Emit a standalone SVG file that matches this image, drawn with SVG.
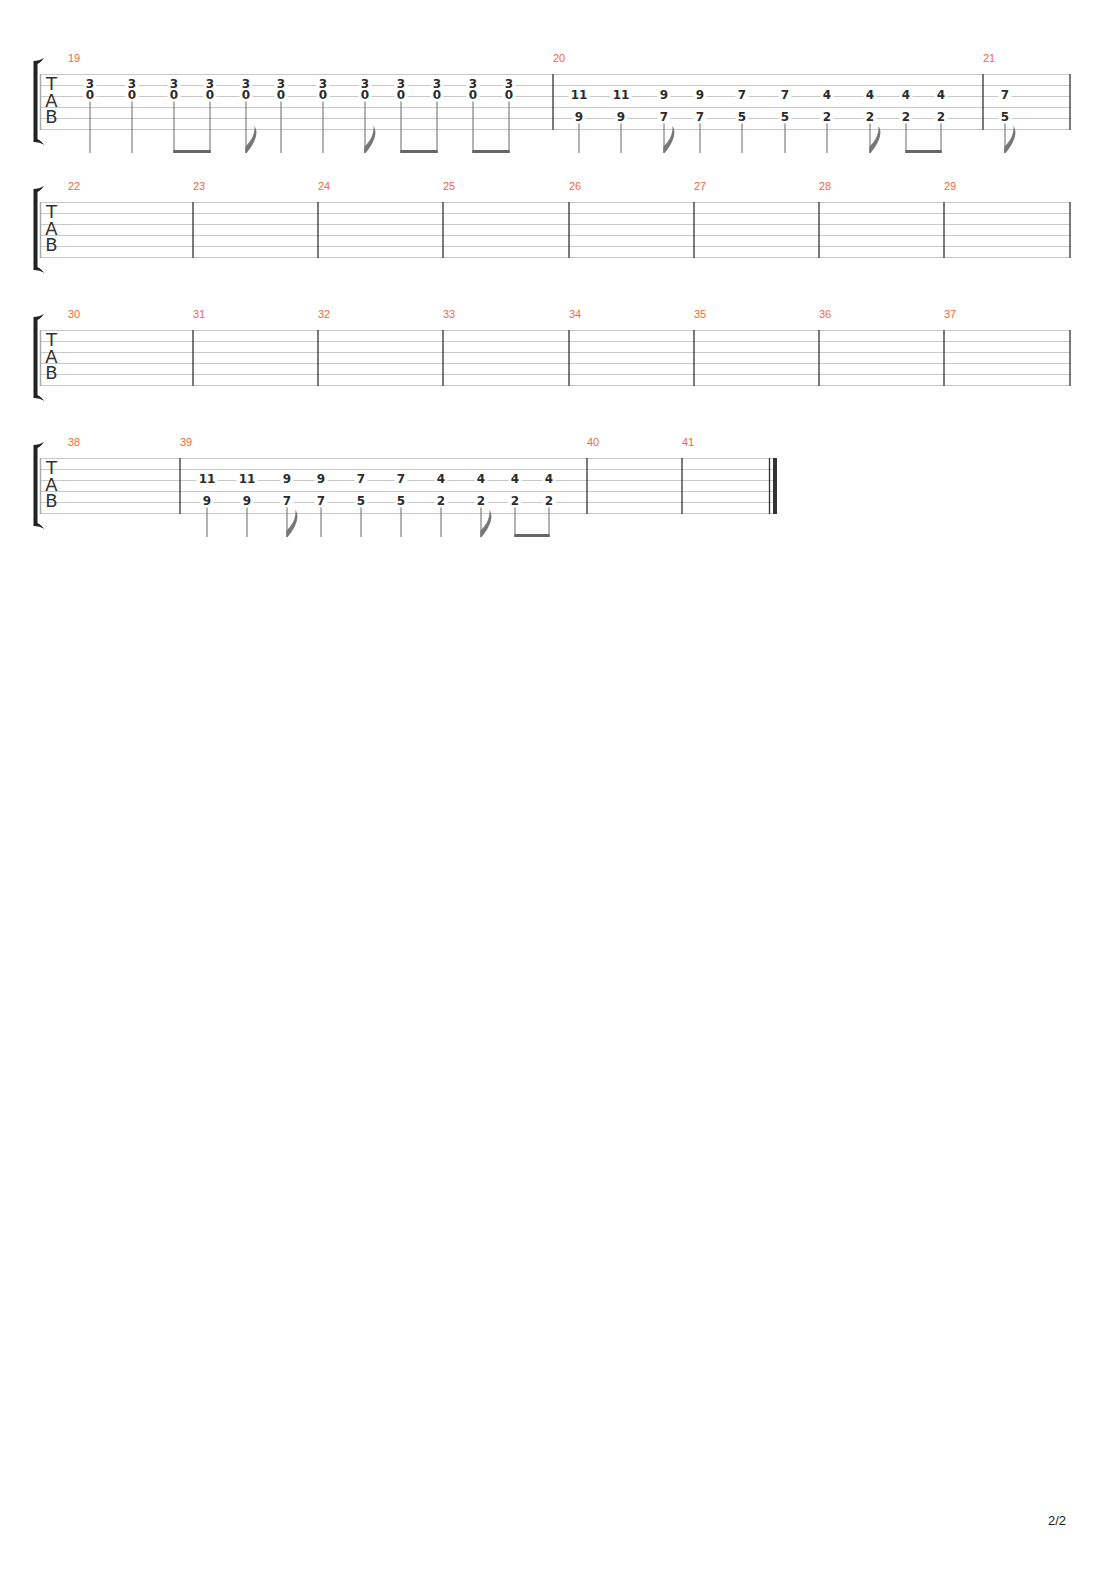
<svg xmlns="http://www.w3.org/2000/svg" xmlns:xlink="http://www.w3.org/1999/xlink" width="1110" height="1570" viewBox="0 0 1110 1570">
<style>
.st{stroke:#c8c8c8;stroke-width:1;fill:none}
.bl{stroke:#333;stroke-width:1.3}
.el{stroke:#aaa;stroke-width:1.5}
.mn{font-family:"Liberation Sans",Arial,sans-serif;font-size:11px;fill:#f5683c}
.tab{font-family:"DejaVu Sans",sans-serif;font-size:18px;fill:#333;text-anchor:middle}
.fn{font-family:"DejaVu Sans",sans-serif;font-size:12px;font-weight:bold;fill:#2b2b2b;text-anchor:middle}
.bg{fill:#fff}
.stem{stroke:#8a8a8a;stroke-width:1.3}
.beam{fill:#666}
.flag{fill:#777}
.br{fill:#222}
</style>
<defs>
<path id="flag" class="flag" d="M -0.7,0 L -0.7,-6 C 4,-11 9,-17 8.5,-27 C 12,-22 11.5,-13 0.7,0 Z"/>
<path id="brk" class="br" d="M 33.5,-13 C 37.5,-13 40.5,-14 44,-16 C 42,-13 39.5,-11 37.5,-10 L 37.5,65 C 39.5,66 42,68 44.5,71 C 41,69 38,68 33.5,68 Z"/>
<g id="tabclef">
<text class="tab" x="51.5" y="16.3">T</text>
<text class="tab" x="51.5" y="33">A</text>
<text class="tab" x="51.5" y="49">B</text>
</g>
<g id="staff">
<line class="st" x1="40" y1="0.5" x2="1070" y2="0.5"/>
<line class="st" x1="40" y1="11.5" x2="1070" y2="11.5"/>
<line class="st" x1="40" y1="22.5" x2="1070" y2="22.5"/>
<line class="st" x1="40" y1="33.5" x2="1070" y2="33.5"/>
<line class="st" x1="40" y1="44.5" x2="1070" y2="44.5"/>
<line class="st" x1="40" y1="55.5" x2="1070" y2="55.5"/>
<line class="el" x1="40.5" y1="0" x2="40.5" y2="56"/>
</g>
</defs>

<!-- System 1 -->
<g id="system1">
<use href="#staff" transform="translate(0,74)"/>
<use href="#brk" transform="translate(0,74)"/>
<use href="#tabclef" transform="translate(0,74)"/>
<g id="s1-bars">
<line class="bl" x1="553" y1="74" x2="553" y2="130"/>
<line class="bl" x1="983" y1="74" x2="983" y2="130"/>
<line class="bl" x1="1070" y1="74" x2="1070" y2="130"/>
</g>
<g id="s1-nums">
<text class="mn" x="68" y="62">19</text>
<text class="mn" x="553" y="62">20</text>
<text class="mn" x="983" y="62">21</text>
</g>
<g id="m19">
<g class="bg">
<rect x="83.5" y="78" width="13" height="10"/><rect x="83.5" y="89" width="13" height="10"/>
<rect x="125.5" y="78" width="13" height="10"/><rect x="125.5" y="89" width="13" height="10"/>
<rect x="167.5" y="78" width="13" height="10"/><rect x="167.5" y="89" width="13" height="10"/>
<rect x="203.5" y="78" width="13" height="10"/><rect x="203.5" y="89" width="13" height="10"/>
<rect x="239.5" y="78" width="13" height="10"/><rect x="239.5" y="89" width="13" height="10"/>
<rect x="274.5" y="78" width="13" height="10"/><rect x="274.5" y="89" width="13" height="10"/>
<rect x="316.5" y="78" width="13" height="10"/><rect x="316.5" y="89" width="13" height="10"/>
<rect x="358.5" y="78" width="13" height="10"/><rect x="358.5" y="89" width="13" height="10"/>
<rect x="394.5" y="78" width="13" height="10"/><rect x="394.5" y="89" width="13" height="10"/>
<rect x="430.5" y="78" width="13" height="10"/><rect x="430.5" y="89" width="13" height="10"/>
<rect x="466.5" y="78" width="13" height="10"/><rect x="466.5" y="89" width="13" height="10"/>
<rect x="502.5" y="78" width="13" height="10"/><rect x="502.5" y="89" width="13" height="10"/>
</g>
<text class="fn" x="90" y="87.8">3</text><text class="fn" x="90" y="98.8">0</text>
<text class="fn" x="132" y="87.8">3</text><text class="fn" x="132" y="98.8">0</text>
<text class="fn" x="174" y="87.8">3</text><text class="fn" x="174" y="98.8">0</text>
<text class="fn" x="210" y="87.8">3</text><text class="fn" x="210" y="98.8">0</text>
<text class="fn" x="246" y="87.8">3</text><text class="fn" x="246" y="98.8">0</text>
<text class="fn" x="281" y="87.8">3</text><text class="fn" x="281" y="98.8">0</text>
<text class="fn" x="323" y="87.8">3</text><text class="fn" x="323" y="98.8">0</text>
<text class="fn" x="365" y="87.8">3</text><text class="fn" x="365" y="98.8">0</text>
<text class="fn" x="401" y="87.8">3</text><text class="fn" x="401" y="98.8">0</text>
<text class="fn" x="437" y="87.8">3</text><text class="fn" x="437" y="98.8">0</text>
<text class="fn" x="473" y="87.8">3</text><text class="fn" x="473" y="98.8">0</text>
<text class="fn" x="509" y="87.8">3</text><text class="fn" x="509" y="98.8">0</text>
<g id="m19-stems">
<line class="stem" x1="90" y1="101.5" x2="90" y2="153"/>
<line class="stem" x1="132" y1="101.5" x2="132" y2="153"/>
<line class="stem" x1="174" y1="101.5" x2="174" y2="153"/>
<line class="stem" x1="210" y1="101.5" x2="210" y2="153"/>
<line class="stem" x1="246" y1="101.5" x2="246" y2="153"/>
<line class="stem" x1="281" y1="101.5" x2="281" y2="153"/>
<line class="stem" x1="323" y1="101.5" x2="323" y2="153"/>
<line class="stem" x1="365" y1="101.5" x2="365" y2="153"/>
<line class="stem" x1="401" y1="101.5" x2="401" y2="153"/>
<line class="stem" x1="437" y1="101.5" x2="437" y2="153"/>
<line class="stem" x1="473" y1="101.5" x2="473" y2="153"/>
<line class="stem" x1="509" y1="101.5" x2="509" y2="153"/>
<rect class="beam" x="173.35" y="150" width="37.3" height="3"/>
<rect class="beam" x="400.35" y="150" width="37.3" height="3"/>
<rect class="beam" x="472.35" y="150" width="37.3" height="3"/>
<use href="#flag" transform="translate(246,153)"/>
<use href="#flag" transform="translate(365,153)"/>
</g>
</g>
<g id="m20">
<g class="bg">
<rect x="568.5" y="89" width="21" height="10"/><rect x="572.5" y="111" width="13" height="10"/>
<rect x="610.5" y="89" width="21" height="10"/><rect x="614.5" y="111" width="13" height="10"/>
<rect x="657.5" y="89" width="13" height="10"/><rect x="657.5" y="111" width="13" height="10"/>
<rect x="693.5" y="89" width="13" height="10"/><rect x="693.5" y="111" width="13" height="10"/>
<rect x="735.5" y="89" width="13" height="10"/><rect x="735.5" y="111" width="13" height="10"/>
<rect x="778.5" y="89" width="13" height="10"/><rect x="778.5" y="111" width="13" height="10"/>
<rect x="820.5" y="89" width="13" height="10"/><rect x="820.5" y="111" width="13" height="10"/>
<rect x="863.5" y="89" width="13" height="10"/><rect x="863.5" y="111" width="13" height="10"/>
<rect x="899.5" y="89" width="13" height="10"/><rect x="899.5" y="111" width="13" height="10"/>
<rect x="934.5" y="89" width="13" height="10"/><rect x="934.5" y="111" width="13" height="10"/>
</g>
<text class="fn" x="579" y="98.8">11</text><text class="fn" x="579" y="120.8">9</text>
<text class="fn" x="621" y="98.8">11</text><text class="fn" x="621" y="120.8">9</text>
<text class="fn" x="664" y="98.8">9</text><text class="fn" x="664" y="120.8">7</text>
<text class="fn" x="700" y="98.8">9</text><text class="fn" x="700" y="120.8">7</text>
<text class="fn" x="742" y="98.8">7</text><text class="fn" x="742" y="120.8">5</text>
<text class="fn" x="785" y="98.8">7</text><text class="fn" x="785" y="120.8">5</text>
<text class="fn" x="827" y="98.8">4</text><text class="fn" x="827" y="120.8">2</text>
<text class="fn" x="870" y="98.8">4</text><text class="fn" x="870" y="120.8">2</text>
<text class="fn" x="906" y="98.8">4</text><text class="fn" x="906" y="120.8">2</text>
<text class="fn" x="941" y="98.8">4</text><text class="fn" x="941" y="120.8">2</text>
<g id="m20-stems">
<line class="stem" x1="579" y1="123.5" x2="579" y2="153"/>
<line class="stem" x1="621" y1="123.5" x2="621" y2="153"/>
<line class="stem" x1="664" y1="123.5" x2="664" y2="153"/>
<line class="stem" x1="700" y1="123.5" x2="700" y2="153"/>
<line class="stem" x1="742" y1="123.5" x2="742" y2="153"/>
<line class="stem" x1="785" y1="123.5" x2="785" y2="153"/>
<line class="stem" x1="827" y1="123.5" x2="827" y2="153"/>
<line class="stem" x1="870" y1="123.5" x2="870" y2="153"/>
<line class="stem" x1="906" y1="123.5" x2="906" y2="153"/>
<line class="stem" x1="941" y1="123.5" x2="941" y2="153"/>
<rect class="beam" x="905.35" y="150" width="36.3" height="3"/>
<use href="#flag" transform="translate(664,153)"/>
<use href="#flag" transform="translate(870,153)"/>
</g>
</g>
<g id="m21">
<rect class="bg" x="998.5" y="89" width="13" height="10"/><rect class="bg" x="998.5" y="111" width="13" height="10"/>
<text class="fn" x="1005" y="98.8">7</text><text class="fn" x="1005" y="120.8">5</text>
<line class="stem" x1="1005" y1="123.5" x2="1005" y2="153"/>
<use href="#flag" transform="translate(1005,153)"/>
</g>
</g>

<!-- System 2 -->
<g id="system2">
<use href="#staff" transform="translate(0,202)"/>
<use href="#brk" transform="translate(0,202)"/>
<use href="#tabclef" transform="translate(0,202)"/>
<g id="s2-bars">
<line class="bl" x1="193" y1="202" x2="193" y2="258"/>
<line class="bl" x1="318" y1="202" x2="318" y2="258"/>
<line class="bl" x1="443" y1="202" x2="443" y2="258"/>
<line class="bl" x1="569" y1="202" x2="569" y2="258"/>
<line class="bl" x1="694" y1="202" x2="694" y2="258"/>
<line class="bl" x1="819" y1="202" x2="819" y2="258"/>
<line class="bl" x1="944" y1="202" x2="944" y2="258"/>
<line class="bl" x1="1070" y1="202" x2="1070" y2="258"/>
</g>
<g id="s2-nums">
<text class="mn" x="68" y="190">22</text>
<text class="mn" x="193" y="190">23</text>
<text class="mn" x="318" y="190">24</text>
<text class="mn" x="443" y="190">25</text>
<text class="mn" x="569" y="190">26</text>
<text class="mn" x="694" y="190">27</text>
<text class="mn" x="819" y="190">28</text>
<text class="mn" x="944" y="190">29</text>
</g>
</g>

<!-- System 3 -->
<g id="system3">
<use href="#staff" transform="translate(0,330)"/>
<use href="#brk" transform="translate(0,330)"/>
<use href="#tabclef" transform="translate(0,330)"/>
<g id="s3-bars">
<line class="bl" x1="193" y1="330" x2="193" y2="386"/>
<line class="bl" x1="318" y1="330" x2="318" y2="386"/>
<line class="bl" x1="443" y1="330" x2="443" y2="386"/>
<line class="bl" x1="569" y1="330" x2="569" y2="386"/>
<line class="bl" x1="694" y1="330" x2="694" y2="386"/>
<line class="bl" x1="819" y1="330" x2="819" y2="386"/>
<line class="bl" x1="944" y1="330" x2="944" y2="386"/>
<line class="bl" x1="1070" y1="330" x2="1070" y2="386"/>
</g>
<g id="s3-nums">
<text class="mn" x="68" y="318">30</text>
<text class="mn" x="193" y="318">31</text>
<text class="mn" x="318" y="318">32</text>
<text class="mn" x="443" y="318">33</text>
<text class="mn" x="569" y="318">34</text>
<text class="mn" x="694" y="318">35</text>
<text class="mn" x="819" y="318">36</text>
<text class="mn" x="944" y="318">37</text>
</g>
</g>

<!-- System 4 -->
<g id="system4">
<g class="st">
<line x1="40" y1="458.5" x2="777" y2="458.5"/>
<line x1="40" y1="469.5" x2="777" y2="469.5"/>
<line x1="40" y1="480.5" x2="777" y2="480.5"/>
<line x1="40" y1="491.5" x2="777" y2="491.5"/>
<line x1="40" y1="502.5" x2="777" y2="502.5"/>
<line x1="40" y1="513.5" x2="777" y2="513.5"/>
</g>
<line class="el" x1="40.5" y1="458" x2="40.5" y2="514"/>
<use href="#brk" transform="translate(0,458)"/>
<use href="#tabclef" transform="translate(0,458)"/>
<g id="s4-bars">
<line class="bl" x1="180" y1="458" x2="180" y2="514"/>
<line class="bl" x1="587" y1="458" x2="587" y2="514"/>
<line class="bl" x1="682" y1="458" x2="682" y2="514"/>
<line class="bl" x1="769.5" y1="458" x2="769.5" y2="514"/>
<rect x="773" y="458" width="4" height="56" fill="#333"/>
</g>
<g id="s4-nums">
<text class="mn" x="68" y="446">38</text>
<text class="mn" x="180" y="446">39</text>
<text class="mn" x="587" y="446">40</text>
<text class="mn" x="682" y="446">41</text>
</g>
<g id="m39">
<g class="bg">
<rect x="196.5" y="473" width="21" height="10"/><rect x="200.5" y="495" width="13" height="10"/>
<rect x="236.5" y="473" width="21" height="10"/><rect x="240.5" y="495" width="13" height="10"/>
<rect x="280.5" y="473" width="13" height="10"/><rect x="280.5" y="495" width="13" height="10"/>
<rect x="314.5" y="473" width="13" height="10"/><rect x="314.5" y="495" width="13" height="10"/>
<rect x="354.5" y="473" width="13" height="10"/><rect x="354.5" y="495" width="13" height="10"/>
<rect x="394.5" y="473" width="13" height="10"/><rect x="394.5" y="495" width="13" height="10"/>
<rect x="434.5" y="473" width="13" height="10"/><rect x="434.5" y="495" width="13" height="10"/>
<rect x="474.5" y="473" width="13" height="10"/><rect x="474.5" y="495" width="13" height="10"/>
<rect x="508.5" y="473" width="13" height="10"/><rect x="508.5" y="495" width="13" height="10"/>
<rect x="542.5" y="473" width="13" height="10"/><rect x="542.5" y="495" width="13" height="10"/>
</g>
<text class="fn" x="207" y="482.8">11</text><text class="fn" x="207" y="504.8">9</text>
<text class="fn" x="247" y="482.8">11</text><text class="fn" x="247" y="504.8">9</text>
<text class="fn" x="287" y="482.8">9</text><text class="fn" x="287" y="504.8">7</text>
<text class="fn" x="321" y="482.8">9</text><text class="fn" x="321" y="504.8">7</text>
<text class="fn" x="361" y="482.8">7</text><text class="fn" x="361" y="504.8">5</text>
<text class="fn" x="401" y="482.8">7</text><text class="fn" x="401" y="504.8">5</text>
<text class="fn" x="441" y="482.8">4</text><text class="fn" x="441" y="504.8">2</text>
<text class="fn" x="481" y="482.8">4</text><text class="fn" x="481" y="504.8">2</text>
<text class="fn" x="515" y="482.8">4</text><text class="fn" x="515" y="504.8">2</text>
<text class="fn" x="549" y="482.8">4</text><text class="fn" x="549" y="504.8">2</text>
<g id="m39-stems">
<line class="stem" x1="207" y1="507.5" x2="207" y2="537"/>
<line class="stem" x1="247" y1="507.5" x2="247" y2="537"/>
<line class="stem" x1="287" y1="507.5" x2="287" y2="537"/>
<line class="stem" x1="321" y1="507.5" x2="321" y2="537"/>
<line class="stem" x1="361" y1="507.5" x2="361" y2="537"/>
<line class="stem" x1="401" y1="507.5" x2="401" y2="537"/>
<line class="stem" x1="441" y1="507.5" x2="441" y2="537"/>
<line class="stem" x1="481" y1="507.5" x2="481" y2="537"/>
<line class="stem" x1="515" y1="507.5" x2="515" y2="537"/>
<line class="stem" x1="549" y1="507.5" x2="549" y2="537"/>
<rect class="beam" x="514.35" y="534" width="35.3" height="3"/>
<use href="#flag" transform="translate(287,537)"/>
<use href="#flag" transform="translate(481,537)"/>
</g>
</g>
</g>

<text id="page" x="1066" y="1525" text-anchor="end" font-family="Liberation Sans, Arial, sans-serif" font-size="13" fill="#222">2/2</text>
</svg>
